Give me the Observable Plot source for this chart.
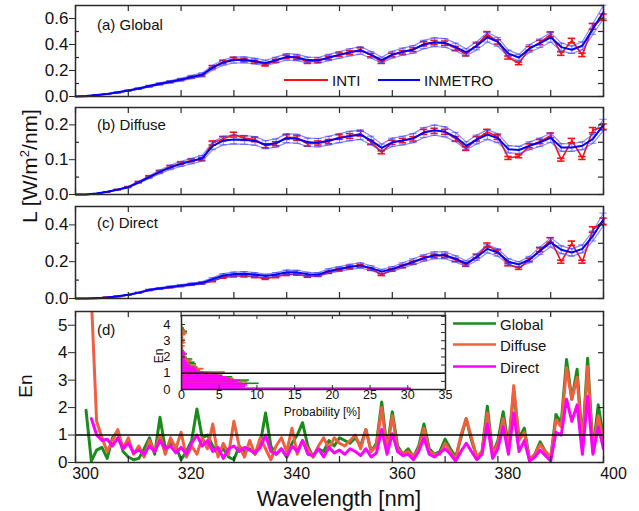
<!DOCTYPE html>
<html><head><meta charset="utf-8">
<script src="https://cdn.jsdelivr.net/npm/d3@7"></script>
<script src="https://cdn.jsdelivr.net/npm/@observablehq/plot@0.6"></script>
<style>
body{margin:0;background:#fff;}
#chart{position:relative;width:639px;height:511px;overflow:hidden;font-family:"Liberation Sans",Arial,sans-serif;background:#fff;}
#chart svg{position:absolute;}
</style></head><body><div id="chart"></div>
<script>
// ---------- data ----------
const wl = [300,302,304,306,308,310,312,314,316,318,320,322,324,326,328,330,332,334,336,338,340,342,344,346,348,350,352,354,356,358,360,362,364,366,368,370,372,374,376,378,380,382,384,386,388,390,392,394,396,398,400];
const globalINMETRO = [0.000,0.003,0.012,0.020,0.032,0.046,0.062,0.080,0.098,0.113,0.130,0.150,0.168,0.222,0.262,0.280,0.282,0.272,0.258,0.280,0.305,0.300,0.280,0.278,0.300,0.320,0.340,0.355,0.320,0.280,0.322,0.345,0.362,0.400,0.418,0.412,0.380,0.340,0.390,0.456,0.420,0.330,0.300,0.370,0.410,0.455,0.380,0.360,0.390,0.520,0.650];
const globalINTI    = [0.000,0.000,0.010,0.019,0.030,0.045,0.060,0.078,0.095,0.112,0.128,0.148,0.160,0.228,0.265,0.290,0.280,0.268,0.245,0.275,0.305,0.298,0.265,0.275,0.298,0.322,0.338,0.360,0.318,0.265,0.320,0.340,0.360,0.405,0.415,0.410,0.370,0.325,0.395,0.480,0.420,0.300,0.255,0.370,0.415,0.478,0.330,0.430,0.320,0.540,0.610];
const diffuseINMETRO = [0.000,0.000,0.003,0.008,0.014,0.021,0.035,0.050,0.065,0.078,0.088,0.096,0.104,0.140,0.155,0.158,0.157,0.154,0.143,0.148,0.162,0.160,0.150,0.149,0.155,0.162,0.168,0.172,0.155,0.134,0.150,0.155,0.162,0.178,0.185,0.180,0.165,0.140,0.158,0.172,0.162,0.130,0.128,0.140,0.150,0.163,0.135,0.135,0.140,0.160,0.200];
const diffuseINTI    = [0.000,0.000,0.002,0.007,0.014,0.022,0.036,0.052,0.066,0.080,0.090,0.098,0.102,0.148,0.160,0.172,0.162,0.158,0.140,0.146,0.165,0.162,0.145,0.148,0.152,0.165,0.168,0.175,0.150,0.122,0.150,0.155,0.160,0.180,0.183,0.180,0.160,0.132,0.160,0.180,0.165,0.105,0.110,0.140,0.152,0.170,0.100,0.155,0.105,0.185,0.195];
const directINMETRO = [0.000,0.000,0.002,0.006,0.012,0.020,0.032,0.047,0.055,0.063,0.070,0.078,0.085,0.105,0.125,0.133,0.135,0.130,0.122,0.130,0.143,0.142,0.132,0.130,0.150,0.160,0.172,0.180,0.165,0.146,0.160,0.180,0.200,0.220,0.235,0.235,0.215,0.190,0.225,0.270,0.250,0.200,0.185,0.212,0.260,0.305,0.265,0.250,0.270,0.340,0.430];
const directINTI    = [0.000,0.000,0.002,0.006,0.011,0.019,0.031,0.045,0.053,0.061,0.068,0.075,0.082,0.095,0.115,0.122,0.122,0.118,0.108,0.118,0.130,0.132,0.120,0.125,0.142,0.158,0.170,0.178,0.160,0.130,0.155,0.175,0.195,0.220,0.232,0.232,0.210,0.182,0.230,0.290,0.255,0.185,0.165,0.210,0.265,0.318,0.200,0.300,0.200,0.375,0.420];

const wlEn = [302,303,304,305,306,307,308,309,310,311,312,313,314,315,316,317,318,319,320,321,322,323,324,325,326,327,328,329,330,331,332,333,334,335,336,337,338,339,340,341,342,343,344,345,346,347,348,349,350,351,352,353,354,355,356,357,358,359,360,361,362,363,364,365,366,367,368,369,370,371,372,373,374,375,376,377,378,379,380,381,382,383,384,385,386,387,388,389,390,391,392,393,394,395,396,397,398,399,400];
const enGlobal = [1.90,0.05,0.45,0.55,0.15,0.90,1.15,0.40,0.20,0.10, 0.15,0.50,0.90,0.30,1.65,0.50,0.70,0.60,0.10,0.40, 0.80,1.95,0.90,1.00,0.60,0.30,0.50,0.20,0.10,0.60, 0.40,0.50,0.30,0.70,1.80,0.60,0.30,0.50,0.20,0.70, 1.00,1.45,0.60,0.20,0.50,0.40,0.80,0.60,0.90,0.80, 0.70,0.90,0.60,1.20,0.40,0.70,2.20,0.50,1.85,0.60, 0.30,0.50,0.20,0.60,1.40,0.50,0.30,0.40,0.85,0.50, 0.20,0.90,1.60,0.80,0.20,0.40,2.05,0.30,0.80,1.85, 0.60,2.60,0.90,1.25,0.10,0.30,0.75,0.40,0.15,1.75, 1.45,3.75,2.30,3.40,0.70,3.80,0.40,2.10,0.90];
const enDiffuse = [null,6.00,1.50,0.90,0.40,0.80,1.20,0.50,0.90,0.30, 0.60,0.20,0.80,0.40,1.00,0.30,0.90,0.50,1.10,0.20, 0.60,0.30,0.90,0.50,1.40,0.20,0.70,0.30,1.50,0.60, 0.20,0.80,0.30,0.90,0.50,0.10,0.60,0.90,0.40,1.25, 0.30,0.80,0.50,0.20,0.60,0.90,0.50,0.90,0.70,0.60, 0.80,1.00,0.50,1.20,0.40,0.60,2.00,0.40,1.70,0.50, 0.30,0.40,0.20,0.50,1.25,0.40,0.30,0.30,0.70,0.40, 0.10,1.00,1.60,0.90,0.20,0.40,1.80,0.30,0.70,1.60, 0.50,2.80,0.80,1.10,0.10,0.30,0.65,0.40,0.20,1.55, 1.30,3.45,2.30,3.10,0.60,3.50,0.40,1.70,0.80];
const enDirect = [null,1.60,1.00,0.80,0.85,0.60,0.90,0.50,0.70,0.35, 0.45,0.30,0.60,0.40,0.80,0.50,0.60,0.35,0.55,0.30, 0.70,1.00,0.60,0.80,0.40,0.55,0.15,0.50,0.60,0.40, 0.55,0.45,0.35,0.55,1.00,0.40,0.30,0.50,0.20,0.60, 0.40,0.80,0.30,0.25,0.50,0.20,0.55,0.35,0.45,0.30, 0.50,0.40,0.25,0.50,0.20,0.35,1.20,0.30,1.05,0.40, 0.25,0.30,0.10,0.40,0.90,0.30,0.20,0.35,0.50,0.30, 0.05,0.40,0.70,0.40,0.10,0.30,1.40,0.15,0.50,1.30, 0.30,1.80,0.40,0.80,0.05,0.20,0.45,0.25,0.05,1.10, 1.00,2.30,1.50,2.10,0.30,2.40,0.30,1.30,0.50];

const enBins = [0.0,0.1,0.2,0.3,0.4,0.5,0.6,0.7,0.8,0.9,1.0,1.1,1.2,1.3,1.4,1.5,1.6,1.7,1.8,1.9,2.0,2.1,2.2,2.3,2.4,2.5,2.6,2.7,2.8,2.9,3.0,3.1,3.2,3.3,3.4,3.5,3.6,3.7,3.8,3.9];
const histGlobal  = [8.0,7.5,8.5,10.3,8.0,9.0,6.5,6.8,5.5,4.5, 3.5,2.5,2.8,2.2,1.5,2.0,1.8,1.2,1.5,0.8, 0.6,0.8,0.5,0.4,0.3,0.2,0.3,0.2,0.4,0.3, 0.2,0.3,0.2,0.5,0.6,0.8,0.5,0.4,0.2,0.1];
const histDiffuse = [7.0,8.0,7.0,7.5,8.8,6.0,7.0,5.5,5.0,4.0, 5.8,2.4,3.0,1.8,2.0,1.2,1.0,1.4,0.8,0.7, 0.5,0.4,0.6,0.3,0.2,0.3,0.5,0.2,0.6,0.3, 0.5,0.2,0.3,0.6,0.8,0.5,0.3,0.2,0.1,0.0];
const histDirect  = [30.5,8.5,8.8,8.0,7.5,7.8,6.5,6.0,5.0,4.2, 3.0,2.2,2.0,1.8,1.2,1.0,0.8,0.6,0.5,0.5, 0.4,0.6,0.5,0.3,0,0,0,0,0,0, 0,0,0,0,0,0,0,0,0,0];

const xTickLabels = [300,320,340,360,380,400];
const xTickMarks = [300,310,320,330,340,350,360,370,380,390,400];
const insetXTicks = [0,5,10,15,20,25,30,35];
const insetYTicks = [0,1,2,3,4];

// ---------- style ----------
const RED = "#ff1010", BLUE = "#0000ff", BLUE_L = "#3a3aff";
const C_GLOBAL = "#1a8c1a", C_DIFFUSE = "#ee6040", C_DIRECT = "#ff00ff";
const FRAME = "#2a2a2a";
const FONT = "Liberation Sans, Arial, sans-serif";
const W = 639, ML = 75, MR = 36;
const CAP = 0.7, U_INTI = 0.04, U_INM = 0.08, BIN = 0.1;
const chart = document.getElementById("chart");

function place(svg, left, top) {
  svg.style.left = left + "px";
  svg.style.top = top + "px";
  chart.append(svg);
}

function errMarks(data, key, u, color, sw, op) {
  const d0 = data.filter(d => d[key] > 0);
  return [
    Plot.ruleX(d0, {x: "x", y1: d => d[key]*(1-u), y2: d => d[key]*(1+u), stroke: color, strokeWidth: sw, strokeOpacity: op}),
    Plot.ruleY(d0, {y: d => d[key]*(1+u), x1: d => d.x - CAP, x2: d => d.x + CAP, stroke: color, strokeWidth: sw, strokeOpacity: op}),
    Plot.ruleY(d0, {y: d => d[key]*(1-u), x1: d => d.x - CAP, x2: d => d.x + CAP, stroke: color, strokeWidth: sw, strokeOpacity: op})
  ];
}

function tickMarks(innerW, innerH, yMajor, yMinor, top=true) {
  const m = [
    Plot.ruleX(xTickMarks, {x: d => d, insetTop: innerH - 6, stroke: FRAME, strokeWidth: 1.2}),
    Plot.ruleY(yMajor.concat(yMinor), {y: d => d, insetLeft: innerW - 5, stroke: FRAME, strokeWidth: 1.2}),
    Plot.ruleY(yMinor, {y: d => d, insetRight: innerW - 4, stroke: FRAME, strokeWidth: 1.2})
  ];
  if (top) m.push(Plot.ruleX(xTickMarks, {x: d => d, insetBottom: innerH - 6, stroke: FRAME, strokeWidth: 1.2}));
  return m;
}

function spectrumPanel(cfg) {
  const innerW = W - ML - MR, innerH = cfg.h - cfg.mt - cfg.mb;
  const data = wl.map((x, i) => ({x, inti: cfg.inti[i], inm: cfg.inm[i],
    up: cfg.inm[i]*(1+U_INM), lo: cfg.inm[i]*(1-U_INM)}));
  const svg = Plot.plot({
    width: W, height: cfg.h, marginLeft: ML, marginRight: MR, marginTop: cfg.mt, marginBottom: cfg.mb,
    x: {domain: [300, 400], axis: null},
    y: {domain: cfg.domain, axis: null},
    style: {background: "transparent", overflow: "visible", fontFamily: FONT, fontSize: "17px", color: "#111"},
    marks: [
      ...errMarks(data, "inti", U_INTI, RED, 1.6, 1),
      Plot.line(data, {x: "x", y: "inti", stroke: RED, strokeWidth: 1.6}),
      Plot.line(data, {x: "x", y: "up", stroke: BLUE_L, strokeWidth: 1.2, strokeOpacity: 0.6}),
      Plot.line(data, {x: "x", y: "lo", stroke: BLUE_L, strokeWidth: 1.2, strokeOpacity: 0.6}),
      ...errMarks(data, "inm", U_INM, BLUE_L, 1.2, 0.55),
      Plot.line(data, {x: "x", y: "inm", stroke: BLUE, strokeWidth: 2}),
      ...tickMarks(innerW, innerH, cfg.yTicks, cfg.yMinor),
      Plot.frame({stroke: FRAME, strokeWidth: 1.5}),
      Plot.axisY(cfg.yTicks, {anchor: "left", tickSize: 6, tickPadding: 1, tickFormat: d3.format(".1f"), label: null, fontSize: 17, stroke: FRAME})
    ]
  });
  place(svg, 0, cfg.top);
}

spectrumPanel({top: 0, h: 100, mt: 5, mb: 4, domain: [0, 0.7], inti: globalINTI, inm: globalINMETRO,
  yTicks: [0, 0.2, 0.4, 0.6], yMinor: [0.1, 0.3, 0.5]});
spectrumPanel({top: 100, h: 100, mt: 7, mb: 6, domain: [0, 0.25], inti: diffuseINTI, inm: diffuseINMETRO,
  yTicks: [0, 0.1, 0.2], yMinor: [0.05, 0.15]});
spectrumPanel({top: 200, h: 100, mt: 6, mb: 2, domain: [0, 0.5], inti: directINTI, inm: directINMETRO,
  yTicks: [0, 0.2, 0.4], yMinor: [0.1, 0.3]});

// ---------- panel (d) ----------
{
  const h = 211, mt = 11, mb = 49;
  const innerW = W - ML - MR, innerH = h - mt - mb;
  const en = wlEn.map((x, i) => ({x, g: enGlobal[i], f: enDiffuse[i], r: enDirect[i]}));
  const svg = Plot.plot({
    width: W, height: h, marginLeft: ML, marginRight: MR, marginTop: mt, marginBottom: mb,
    x: {domain: [300, 400], axis: null},
    y: {domain: [0, 5.5], axis: null},
    style: {background: "transparent", overflow: "visible", fontFamily: FONT, fontSize: "16px", color: "#111"},
    marks: [
      Plot.line(en, {x: "x", y: "g", stroke: C_GLOBAL, strokeWidth: 3, clip: true}),
      Plot.line(en, {x: "x", y: "f", stroke: C_DIFFUSE, strokeWidth: 3, clip: true}),
      Plot.line(en, {x: "x", y: "r", stroke: C_DIRECT, strokeWidth: 3, clip: true}),
      Plot.ruleY([1], {stroke: "#000", strokeWidth: 1.6}),
      ...tickMarks(innerW, innerH, [0,1,2,3,4,5], []),
      Plot.frame({stroke: FRAME, strokeWidth: 1.5}),
      Plot.axisY([0,1,2,3,4,5], {anchor: "left", tickSize: 7, tickPadding: 1, label: null, fontSize: 17, stroke: FRAME}),
      Plot.axisX(xTickLabels, {anchor: "bottom", tickSize: 0, tickPadding: 5, dx: 10, label: null, fontSize: 16})
    ]
  });
  place(svg, 0, 300);
}

// ---------- inset histogram ----------
{
  const w = 310, h = 110, ml = 41, mr = 5, mt = 5, mb = 31;
  const innerW = w - ml - mr, innerH = h - mt - mb;
  const rows = (arr) => enBins.map((b, i) => ({b, p: arr[i]})).filter(d => d.p > 0);
  const svg = Plot.plot({
    width: w, height: h, marginLeft: ml, marginRight: mr, marginTop: mt, marginBottom: mb,
    x: {domain: [0, 35], axis: null},
    y: {domain: [0, 4.55], axis: null},
    style: {background: "transparent", overflow: "visible", fontFamily: FONT, fontSize: "12px", color: "#111"},
    marks: [
      Plot.frame({fill: "#fff"}),
      Plot.rect(rows(histGlobal), {x1: () => 0, x2: "p", y1: "b", y2: d => d.b + BIN, fill: C_GLOBAL}),
      Plot.rect(rows(histDiffuse), {x1: () => 0, x2: "p", y1: "b", y2: d => d.b + BIN, fill: C_DIFFUSE}),
      Plot.rect(rows(histDirect), {x1: () => 0, x2: "p", y1: "b", y2: d => d.b + BIN, fill: C_DIRECT}),
      Plot.ruleY([1], {stroke: "#000", strokeWidth: 1.4}),
      Plot.ruleX(insetXTicks, {x: d => d, insetTop: innerH - 4, stroke: FRAME}),
      Plot.ruleX(insetXTicks, {x: d => d, insetBottom: innerH - 4, stroke: FRAME}),
      Plot.ruleY(insetYTicks, {y: d => d, insetRight: innerW - 4, stroke: FRAME}),
      Plot.ruleY([0.5,1,1.5,2,2.5,3,3.5,4,4.5], {y: d => d, insetLeft: innerW - 4, stroke: FRAME}),
      Plot.frame({stroke: FRAME, strokeWidth: 1.5}),
      Plot.axisY(insetYTicks, {anchor: "left", tickSize: 0, tickPadding: 11, label: null, fontSize: 13}),
      Plot.axisX(insetXTicks, {anchor: "bottom", tickSize: 0, tickPadding: 1, label: null, fontSize: 12.5})
    ]
  });
  place(svg, 140, 310);
}

// ---------- texts & legends ----------
{
  const svg = d3.create("svg").attr("width", W).attr("height", 511)
    .style("left", "0px").style("top", "0px")
    .attr("font-family", FONT).attr("fill", "#111");
  const t = (x, y, s, size, anchor = "start", rot = 0) => {
    const e = svg.append("text").attr("x", x).attr("y", y).attr("font-size", size)
      .attr("text-anchor", anchor).text(s);
    if (rot) e.attr("transform", `rotate(${rot},${x},${y})`);
    return e;
  };
  t(97, 30, "(a) Global", 15);
  t(97, 130, "(b) Diffuse", 15);
  t(97, 228, "(c) Direct", 15);
  t(97, 335, "(d)", 15);
  // legend (a)
  svg.append("line").attr("x1", 284).attr("x2", 328).attr("y1", 80).attr("y2", 80).attr("stroke", RED).attr("stroke-width", 2);
  t(332, 86, "INTI", 15);
  svg.append("line").attr("x1", 378).attr("x2", 420).attr("y1", 80).attr("y2", 80).attr("stroke", BLUE).attr("stroke-width", 2);
  t(424, 86, "INMETRO", 15);
  // legend (d)
  [["Global", C_GLOBAL, 323.5], ["Diffuse", C_DIFFUSE, 344.5], ["Direct", C_DIRECT, 366.5]].forEach(([s, c, y]) => {
    svg.append("line").attr("x1", 453).attr("x2", 496).attr("y1", y).attr("y2", y).attr("stroke", c).attr("stroke-width", 2.5);
    t(500, y + 6, s, 15);
  });
  // axis titles
  const lt = t(37, 166, "", 21, "middle", -90);
  lt.append("tspan").text("L [W/m");
  lt.append("tspan").attr("font-size", 13).attr("dy", -8).text("2");
  lt.append("tspan").attr("dy", 8).text("/nm]");
  t(32, 386, "En", 19, "middle", -90);
  t(339, 506, "Wavelength [nm]", 22, "middle");
  t(163, 356, "En", 12, "middle", -90);
  t(322, 416, "Probability [%]", 12, "middle");
  chart.append(svg.node());
}
</script></body></html>
